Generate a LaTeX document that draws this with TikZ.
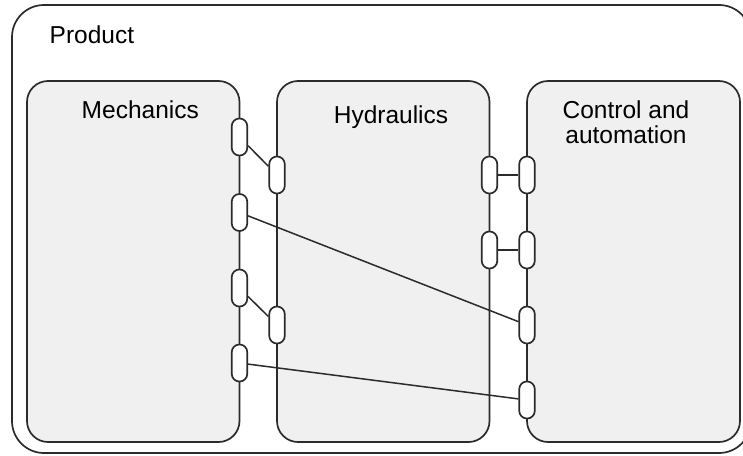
\documentclass[tikz,border=0pt]{standalone}
\usepackage{fontspec}
\setmainfont{Liberation Sans}
\definecolor{edge}{HTML}{2B2B2B}
\definecolor{panel}{HTML}{F0F0F0}
\begin{document}
\begin{tikzpicture}[x=1pt,y=-1pt,
  outlinestyle/.style={draw=edge,line width=1.7pt},
  domainbox/.style={outlinestyle,fill=panel,rounded corners=21pt},
  portbox/.style={outlinestyle,fill=white,rectangle,rounded corners=7.6pt,
    minimum width=15.5pt,minimum height=37pt,inner sep=0pt},
  linkline/.style={draw=edge,line width=1.5pt},
  titletext/.style={font=\fontsize{24.5}{25}\selectfont,inner sep=0pt,anchor=base,text=black}]
\useasboundingbox (0,0) rectangle (743,455);
\clip (0,0) rectangle (743,455);

% enclosing product frame
\draw[outlinestyle,fill=white,rounded corners=32pt] (12,5) rectangle (751,453);
\node[titletext,anchor=base west] (product) at (49.5,43) {Product};

% engineering domains
\draw[domainbox] (27,81) rectangle (239.5,442);
\draw[domainbox] (277,81) rectangle (489.5,442);
\draw[domainbox] (527,81) rectangle (740,442);
\node[titletext] (mech) at (140.3,118.3) {Mechanics};
\node[titletext] (hyd) at (391,123.3) {Hydraulics};
\node[titletext] (ctl1) at (626,118.3) {Control and};
\node[titletext] (ctl2) at (626,143.3) {automation};

% interface ports on the domain borders
\node[portbox] (m1) at (239.5,137) {};
\node[portbox] (m2) at (239.5,212.5) {};
\node[portbox] (m3) at (239.5,288) {};
\node[portbox] (m4) at (239.5,363) {};
\node[portbox] (h1) at (277,175) {};
\node[portbox] (h2) at (277,325) {};
\node[portbox] (h3) at (489.5,175) {};
\node[portbox] (h4) at (489.5,250) {};
\node[portbox] (c1) at (527,175) {};
\node[portbox] (c2) at (527,250) {};
\node[portbox] (c3) at (527,325) {};
\node[portbox] (c4) at (527,400) {};

% interface links
\draw[linkline] (m1) -- (h1);
\draw[linkline] (m3) -- (h2);
\draw[linkline] (h3) -- (c1);
\draw[linkline] (h4) -- (c2);
\draw[linkline] (m2) -- (c3);
\draw[linkline] (m4) -- (c4);
\end{tikzpicture}
\end{document}
